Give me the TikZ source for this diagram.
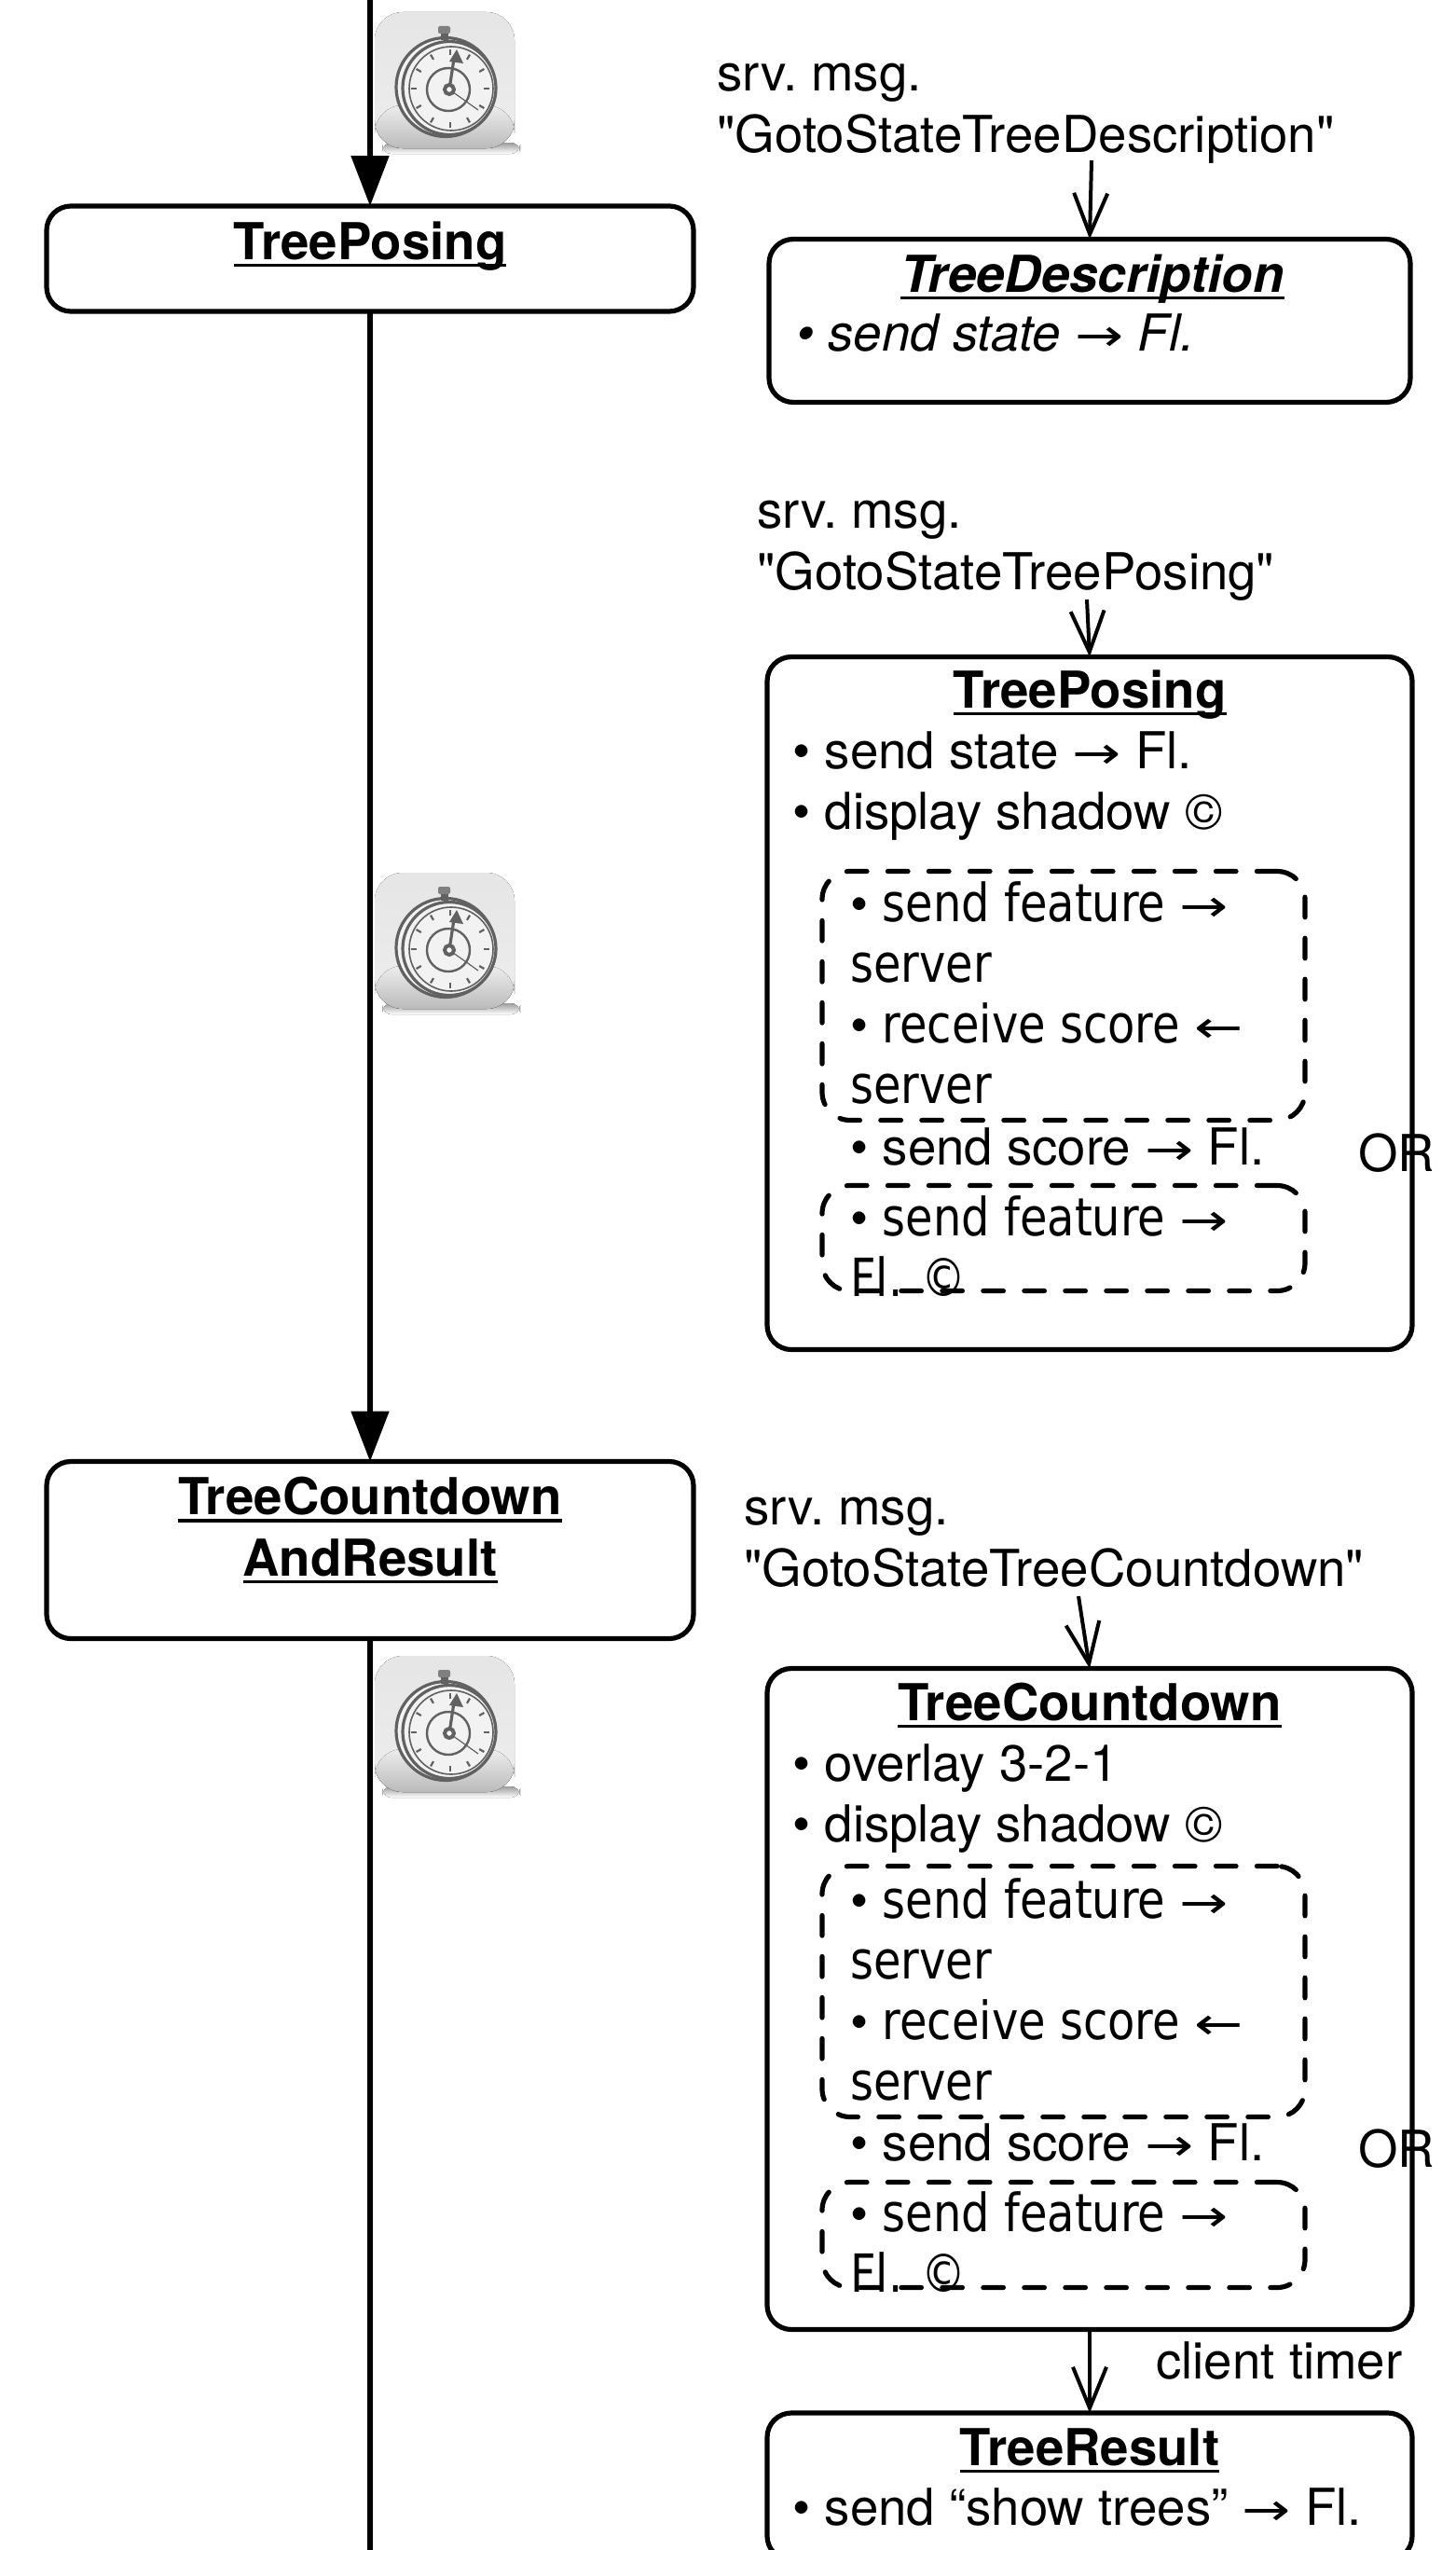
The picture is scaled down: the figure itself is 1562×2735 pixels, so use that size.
\documentclass[tikz,border=0pt]{standalone}
\usepackage{fontspec}
\setmainfont{TeX Gyre Heros}
\newfontfamily\msgfont{TeX Gyre Heros}
\newfontfamily\condfont[FakeStretch=0.85]{DejaVu Sans}
\newfontfamily\arrowfont[FakeStretch=1.3]{DejaVu Sans}
\usetikzlibrary{arrows.meta,positioning}
\newcommand{\toarrow}{{\arrowfont\fontsize{24}{32}\selectfont →}}
\newcommand{\fromarrow}{{\arrowfont\fontsize{24}{32}\selectfont ←}}
\newcommand{\bul}{{\normalfont\fontsize{27.3}{32.6}\selectfont •}}
\newcommand{\titleline}[1]{\setbox0\hbox{#1}\leavevmode\rlap{\rule[-4pt]{\wd0}{1.7pt}}\box0}
\tikzset{
  stateBox/.style={draw=black, line width=2.6pt, rounded corners=13pt, inner sep=0pt, outer sep=0pt},
  dashBox/.style={draw=black, line width=2.6pt, rounded corners=15pt, dash pattern=on 10.8pt off 11.2pt, line cap=round, inner sep=0pt, outer sep=0pt},
  txt/.style={inner sep=0pt, align=left, anchor=north west, font=\fontsize{27.3}{32.6}\selectfont, execute at begin node=\strut},
  cond/.style={inner sep=0pt, align=left, anchor=north west, font=\condfont\fontsize{28.2}{32.6}\selectfont, execute at begin node=\strut},
  title/.style={inner sep=0pt, align=center, anchor=north, font=\fontsize{27.3}{32.6}\selectfont\bfseries, execute at begin node=\strut},
  mainLine/.style={line width=2.6pt, -{Triangle[length=27pt,width=20pt]}},
  plainLine/.style={line width=2.6pt},
  msgArrow/.style={line width=2pt, -{Straight Barb[length=22pt,width=18pt,line width=2pt]}},
  pics/stopwatch/.style={code={
    % icon body
    \fill[rounded corners=5pt, top color=black!38, bottom color=white] (8,140) rectangle (156,152);
    \fill[rounded corners=15pt, top color=black!10, bottom color=black!7] (0,0) rectangle (150,146);
    \fill[rounded corners=15pt, top color=black!7, bottom color=black!27] (0,100) rectangle (150,146);
    % case
    \draw[black!62, line width=1.6pt, fill=black!5] (76,80.5) circle (53);
    \draw[black!62, line width=1.6pt, fill=black!5] (80,81.5) circle (50);
    \draw[black!62, line width=.8pt] (82,82) circle (45);
    \draw[black!62, line width=1.2pt] (79,83) circle (23);
    \foreach \ang in {0,30,...,330}
      \draw[black!62, line width=1.1pt] (81,82) ++(\ang:36) -- ++(\ang:6);
    \fill[black!62] (71,22) rectangle (79,30);
    \fill[black!50, rounded corners=1pt] (68,15) rectangle (81,23);
    \draw[black!62, line width=1.6pt] (80,83) -- (85,50);
    \fill[black!62] (80,53) -- (88,40) -- (95,55) -- cycle;
    \draw[black!62, line width=.6pt] (80,83) -- (111,105);
    \draw[black!62, line width=2pt, fill=white] (80,83) circle (5);
  }}
}
\begin{document}
\begin{tikzpicture}[x=0.5pt,y=-0.5pt]
    \useasboundingbox (0,0) rectangle (1562,2735);

    % stopwatch icons
    \pic at (402,13) {stopwatch};
    \pic at (402,936) {stopwatch};
    \pic at (402,1776) {stopwatch};

    % left column
    \coordinate (lineTop) at (397,-5);
    \coordinate (lineEnd) at (397,2745);
    \node[stateBox, minimum width=347pt, minimum height=56.5pt] (treePosing) at (397,277.5) {};
    \node[stateBox, minimum width=347pt, minimum height=95pt] (treeCountdownAndResult) at (397,1662.5) {};
    \node[title] (treePosingTitle) at (397,232) {\titleline{TreePosing}};
    \node[title] (treeCountdownTitle) at (397,1584) {\titleline{TreeCountdown}\\\titleline{AndResult}};
    \draw[mainLine] (lineTop) -- (treePosing.north);
    \draw[mainLine] (treePosing.south) -- (treeCountdownAndResult.north);
    \draw[plainLine] (treeCountdownAndResult.south) -- (lineEnd);

    % right column, boxes
    \node[stateBox, minimum width=344pt, minimum height=87.5pt] (descBox) at (1169,344) {};
    \node[stateBox, minimum width=346pt, minimum height=371.5pt] (posingBox) at (1169,1076) {};
    \node[stateBox, minimum width=346pt, minimum height=354.5pt] (countdownBox) at (1169,2144) {};
    \node[stateBox, minimum width=346pt, minimum height=79pt] (resultBox) at (1169,2667) {};
    \node[dashBox, minimum width=259pt, minimum height=133.5pt] (posingDashA) at (1141,1068) {};
    \node[dashBox, minimum width=259pt, minimum height=56.5pt] (posingDashB) at (1141,1328) {};
    \node[dashBox, minimum width=259pt, minimum height=134.5pt] (countdownDashA) at (1141,2136) {};
    \node[dashBox, minimum width=259pt, minimum height=56.5pt] (countdownDashB) at (1141,2397) {};

    % server messages
    \node[txt, font=\msgfont\fontsize{27.3}{32.6}\selectfont] (msgDesc) at (769,68) {srv.\ msg.\\"GotoStateTreeDescription"};
    \node[txt, font=\msgfont\fontsize{27.3}{32.6}\selectfont] (msgPosing) at (812,537) {srv.\ msg.\\"GotoStateTreePosing"};
    \node[txt, font=\msgfont\fontsize{27.3}{32.6}\selectfont] (msgCountdown) at (798,1606) {srv.\ msg.\\"GotoStateTreeCountdown"};
    \coordinate (msgDescEnd) at (1171,172);
    \coordinate (msgPosingEnd) at (1166,643);
    \coordinate (msgCountdownEnd) at (1157,1712);
    \draw[msgArrow] (msgDescEnd) -- (descBox.north);
    \draw[msgArrow] (msgPosingEnd) -- (posingBox.north);
    \draw[msgArrow] (msgCountdownEnd) -- (countdownBox.north);
    \draw[msgArrow] (countdownBox.south) -- (resultBox.north);

    % TreeDescription
    \node[title] (descTitle) at (1172,267) {\itshape\titleline{TreeDescription}};
    \node[txt, font=\fontsize{27.3}{32.6}\selectfont\itshape] (descText) at (854,330) {• send state \toarrow{} Fl.};

    % TreePosing
    \node[title] (posingTitle) at (1169,713) {\titleline{TreePosing}};
    \node[txt] (posingText) at (850,784) {• send state \toarrow{} Fl.\\• display shadow ©};
    \node[cond] (posingServer) at (912,945) {\bul{} send feature \toarrow\\server\\\bul{} receive score \fromarrow\\server};
    \node[txt] (posingScore) at (912,1203) {• send score \toarrow{} Fl.};
    \node[cond] (posingFeature) at (912,1282) {\bul{} send feature \toarrow\\Fl. ©};
    \node[txt] (posingOr) at (1457,1210) {OR};

    % TreeCountdown
    \node[title] (countdownTitle) at (1169,1799) {\titleline{TreeCountdown}};
    \node[txt] (countdownText) at (850,1870) {• overlay 3-2-1\\• display shadow ©};
    \node[cond] (countdownServer) at (912,2014) {\bul{} send feature \toarrow\\server\\\bul{} receive score \fromarrow\\server};
    \node[txt] (countdownScore) at (912,2271) {• send score \toarrow{} Fl.};
    \node[cond] (countdownFeature) at (912,2350) {\bul{} send feature \toarrow\\Fl. ©};
    \node[txt] (countdownOr) at (1457,2278) {OR};

    % TreeResult
    \node[txt] (timerLabel) at (1240,2505) {client timer};
    \node[title] (resultTitle) at (1169,2598) {\titleline{TreeResult}};
    \node[txt] (resultText) at (850,2662) {• send “show trees” \toarrow{} Fl.};
\end{tikzpicture}
\end{document}
